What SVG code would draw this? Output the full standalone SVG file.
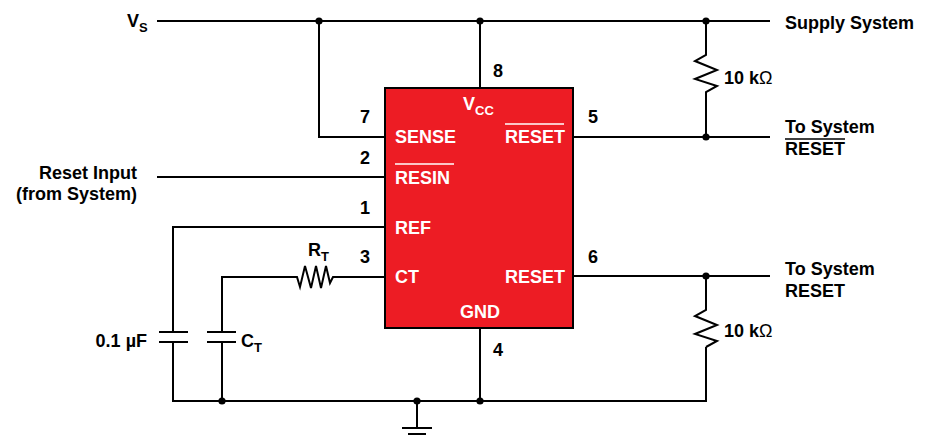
<svg xmlns="http://www.w3.org/2000/svg" width="934" height="440" viewBox="0 0 934 440">
<style>
.w{fill:none;stroke:#000;stroke-width:2;stroke-linejoin:miter}
.t{font-family:"Liberation Sans",Arial,sans-serif;font-weight:bold;font-size:18px;fill:#000}
.s{font-size:13px}
.n{font-weight:normal}
.c{fill:#fff}
.ov{stroke:#000;stroke-width:1.5}
.ovw{stroke:#fff;stroke-width:1.5}
</style>
<defs>
<circle id="dot" r="3.6" fill="#000"/>
</defs>
<rect width="934" height="440" fill="#fff"/>
<g id="connectors">
<path class="w" d="M157 21H770"/>
<path class="w" d="M319 21V137H385"/>
<path class="w" d="M480 21V88"/>
<path class="w" d="M157 177H385"/>
<path class="w" d="M385 227H173V332"/>
<path class="w" d="M159 332H188M159 342H188"/>
<path class="w" d="M173 342V401H706V347"/>
<path class="w" d="M385 277H333L330 283L326 266L321 288L316 266L311 288L305 266L300 287L297 277H222V332"/>
<path class="w" d="M207 332H236M207 342H236"/>
<path class="w" d="M222 342V401"/>
<path class="w" d="M573 137H770"/>
<path class="w" d="M573 276H770"/>
<path class="w" d="M480 328V401"/>
<path class="w" d="M706 21V55L695 61L717 70L695 79L717 86L706 92V137"/>
<path class="w" d="M706 276V310L695 316L717 325L695 334L717 341L706 347"/>
<path class="w" d="M417 401V428M402 428H432M408 434H426"/>
<use href="#dot" x="319" y="21"/>
<use href="#dot" x="480" y="21"/>
<use href="#dot" x="706" y="21"/>
<use href="#dot" x="706" y="137"/>
<use href="#dot" x="706" y="276"/>
<use href="#dot" x="222" y="401"/>
<use href="#dot" x="417" y="401"/>
<use href="#dot" x="480" y="401"/>
</g>
<g id="chip">
<rect x="385" y="88" width="188" height="240" fill="#ED1C24" stroke="#000" stroke-width="2"/>
<text class="t c" x="463" y="110">V<tspan class="s" dy="5">CC</tspan></text>
<text class="t c" x="395" y="143">SENSE</text>
<text class="t c" x="505" y="143">RESET</text>
<line class="ovw" x1="505" y1="124" x2="564" y2="124"/>
<text class="t c" x="395" y="184">RESIN</text>
<line class="ovw" x1="395" y1="164" x2="454" y2="164"/>
<text class="t c" x="395" y="234">REF</text>
<text class="t c" x="395" y="283">CT</text>
<text class="t c" x="505" y="283">RESET</text>
<text class="t c" x="480" y="318" text-anchor="middle">GND</text>
</g>
<g id="pins">
<text class="t" x="493" y="77">8</text>
<text class="t" x="360" y="123">7</text>
<text class="t" x="360" y="164">2</text>
<text class="t" x="360" y="214">1</text>
<text class="t" x="360" y="263">3</text>
<text class="t" x="588" y="123">5</text>
<text class="t" x="588" y="263">6</text>
<text class="t" x="493" y="356">4</text>
</g>
<g id="labels">
<text class="t" x="127" y="27">V<tspan class="s" dy="5">S</tspan></text>
<text class="t" x="137" y="179" text-anchor="end">Reset Input</text>
<text class="t" x="137" y="200" text-anchor="end">(from System)</text>
<text class="t" x="785" y="29">Supply System</text>
<text class="t" x="785" y="133">To System</text>
<text class="t" x="785" y="155">RESET</text>
<line class="ov" x1="785" y1="139" x2="845" y2="139"/>
<text class="t" x="785" y="275">To System</text>
<text class="t" x="785" y="297">RESET</text>
<text class="t" x="724" y="84">10 k<tspan class="n">Ω</tspan></text>
<text class="t" x="724" y="337">10 k<tspan class="n">Ω</tspan></text>
<text class="t" x="308" y="256">R<tspan class="s" dy="5">T</tspan></text>
<text class="t" x="147" y="347" text-anchor="end">0.1 µF</text>
<text class="t" x="241" y="347">C<tspan class="s" dy="5">T</tspan></text>
</g>
</svg>
